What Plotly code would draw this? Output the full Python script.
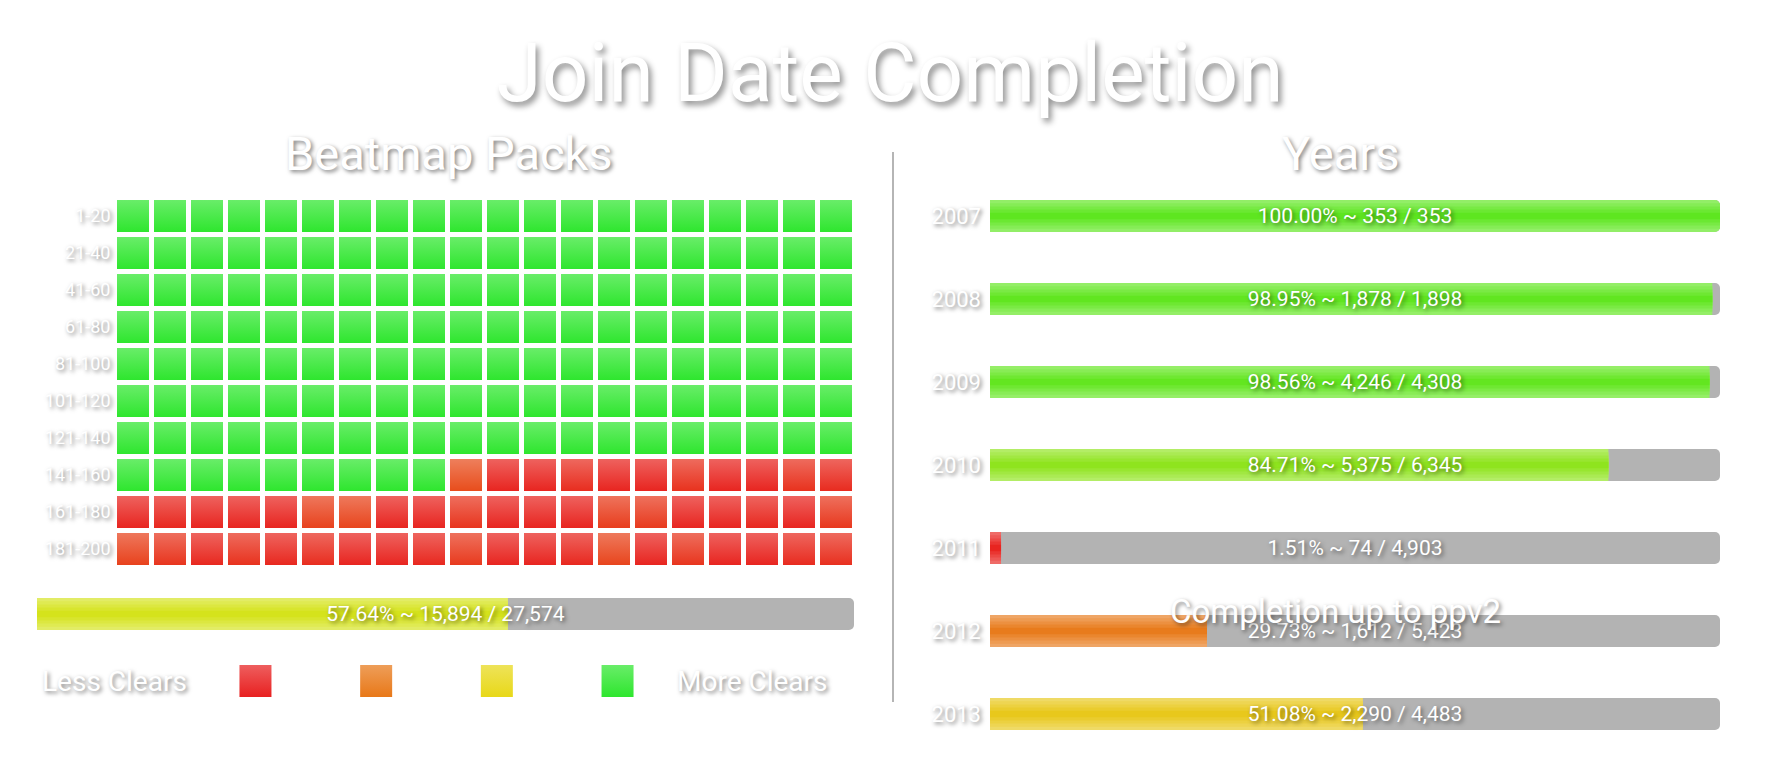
import plotly.graph_objects as go

# ---------------------------------------------------------------- data
pack_rows = ["1-20", "21-40", "41-60", "61-80", "81-100", "101-120",
             "121-140", "141-160", "161-180", "181-200"]
pack_cols = list(range(20))

# share of the pack cleared, one row of 20 packs per label
pack_clears = [
    [1.0] * 20,
    [1.0] * 20,
    [1.0] * 20,
    [1.0] * 20,
    [1.0] * 20,
    [1.0] * 20,
    [1.0] * 20,
    [1.0] * 9 + [0.17, 0.02, 0.02, 0.05, 0.02, 0.02, 0.07, 0.02, 0.02, 0.07, 0.04],
    [0.02, 0.03, 0.02, 0.02, 0.02, 0.13, 0.14, 0.02, 0.02, 0.08,
     0.02, 0.02, 0.02, 0.11, 0.10, 0.02, 0.02, 0.03, 0.02, 0.09],
    [0.13, 0.08, 0.03, 0.07, 0.03, 0.05, 0.02, 0.02, 0.03, 0.10,
     0.02, 0.02, 0.03, 0.14, 0.02, 0.08, 0.02, 0.02, 0.04, 0.06],
]

pack_done = 15894
pack_total = 27574

years = ["2007", "2008", "2009", "2010", "2011", "2012", "2013"]
year_done = [353, 1878, 4246, 5375, 74, 1612, 2290]
year_total = [353, 1898, 4308, 6345, 4903, 5423, 4483]

legend_levels = [0, 1 / 3, 2 / 3, 1]

# ---------------------------------------------------------------- styling
W, H = 1780, 760
FONT = "Roboto"
SHADOW = "2px 2px 4px rgba(0,0,0,0.5)"
GREY = "#b3b3b3"

TILE_STOPS = [(0, "#e82020"), (1 / 3, "#e87818"), (2 / 3, "#e8d818"), (1, "#2ee62e")]
BAR_STOPS = [(0, "#e82020"), (30, "#e87c1c"), (51, "#e8c81c"), (58, "#d4e41c"),
             (85, "#8ee41e"), (100, "#5ee620")]


def to_rgb(h):
    h = h.lstrip("#")
    return [int(h[i:i + 2], 16) for i in (0, 2, 4)]


def mix(c1, c2, t):
    a, b = to_rgb(c1), to_rgb(c2)
    return "#" + "".join(f"{round(x + (y - x) * t):02x}" for x, y in zip(a, b))


def ramp(stops, v):
    for (p0, c0), (p1, c1) in zip(stops, stops[1:]):
        if v <= p1:
            return mix(c0, c1, (v - p0) / (p1 - p0))
    return stops[-1][1]


def px_x(p):
    return p / W


def px_y(p):
    return 1 - p / H


fig = go.Figure()

# ---------------------------------------------------------------- pack grid
tx, ty, tbottom, ttop = [], [], [], []
for label, row in zip(pack_rows, pack_clears):
    for col, v in zip(pack_cols, row):
        base = ramp(TILE_STOPS, v)
        tx.append(col)
        ty.append(label)
        tbottom.append(base)
        ttop.append(mix(base, "#ffffff", 0.28))

fig.add_trace(go.Scatter(
    x=tx, y=ty, mode="markers", xaxis="x", yaxis="y",
    marker=dict(symbol="square", size=32, color=ttop, line=dict(width=0),
                gradient=dict(type="vertical", color=tbottom)),
    hoverinfo="skip",
))

# ---------------------------------------------------------------- progress bars
LAYERS = [(1.0, 0.32), (0.8, 0.24), (0.6, 0.16), (0.4, 0.08), (0.2, 0.0)]


def add_progress(xa, ya, cats, values, full, colors, texts, thick):
    fig.add_trace(go.Bar(
        x=full, y=cats, orientation="h", xaxis=xa, yaxis=ya, width=thick,
        marker=dict(color=GREY, cornerradius=5, line=dict(width=0)),
        hoverinfo="skip",
    ))
    for i, (frac, light) in enumerate(LAYERS):
        fig.add_trace(go.Bar(
            x=values, y=cats, orientation="h", xaxis=xa, yaxis=ya,
            width=thick * frac,
            marker=dict(color=[mix(c, "#ffffff", light) for c in colors],
                        cornerradius=5 if i == 0 else 0, line=dict(width=0)),
            hoverinfo="skip",
        ))
    fig.add_trace(go.Bar(
        x=full, y=cats, orientation="h", xaxis=xa, yaxis=ya, width=thick,
        marker=dict(color="rgba(0,0,0,0)", line=dict(width=0)),
        text=texts, textposition="inside", insidetextanchor="middle",
        textangle=0, constraintext="none", cliponaxis=False,
        textfont=dict(family=FONT, size=21, color="white", shadow=SHADOW),
        hoverinfo="skip",
    ))


pack_pct = pack_done / pack_total * 100
add_progress("x2", "y2", ["all"], [pack_done], [pack_total],
             [ramp(BAR_STOPS, pack_pct)],
             [f"{pack_pct:.2f}% ~ {pack_done:,} / {pack_total:,}"], 0.5)

year_pct = [d / t * 100 for d, t in zip(year_done, year_total)]
add_progress("x3", "y3", years, year_pct, [100] * len(years),
             [ramp(BAR_STOPS, p) for p in year_pct],
             [f"{p:.2f}% ~ {d:,} / {t:,}" for p, d, t in zip(year_pct, year_done, year_total)],
             32 / 83)

# ---------------------------------------------------------------- colour key
key_base = [ramp(TILE_STOPS, v) for v in legend_levels]
fig.add_trace(go.Scatter(
    x=list(range(len(legend_levels))), y=[0] * len(legend_levels),
    mode="markers", xaxis="x4", yaxis="y4",
    marker=dict(symbol="square", size=32, line=dict(width=0),
                color=[mix(c, "#ffffff", 0.28) for c in key_base],
                gradient=dict(type="vertical", color=key_base)),
    hoverinfo="skip",
))

# ---------------------------------------------------------------- layout
hidden = dict(visible=False, fixedrange=True)
tick_font = dict(family=FONT, color="white", shadow=SHADOW)


def text(x, y, s, size, shadow=SHADOW, xref="paper", yref="paper"):
    return dict(x=x, y=y, xref=xref, yref=yref, text=s, showarrow=False,
                xanchor="center", yanchor="middle",
                font=dict(family=FONT, size=size, color="white", shadow=shadow))


fig.update_layout(
    width=W, height=H,
    margin=dict(l=0, r=0, t=0, b=0),
    paper_bgcolor="white", plot_bgcolor="rgba(0,0,0,0)",
    showlegend=False, barmode="overlay",
    title=dict(text="Join Date Completion", x=0.5, xanchor="center",
               y=px_y(72), yanchor="middle",
               font=dict(family=FONT, size=82, color="white", weight=400,
                         shadow="3px 4px 6px rgba(0,0,0,0.45)")),
    xaxis=dict(domain=[px_x(114.5), px_x(854.5)], range=[-0.5, 19.5], **hidden),
    yaxis=dict(domain=[px_y(567.5), px_y(197.5)], type="category",
               categoryarray=pack_rows, range=[9.5, -0.5], anchor="x",
               showgrid=False, zeroline=False, showline=False, ticks="",
               ticklabelstandoff=3, tickfont=dict(size=18, **tick_font),
               fixedrange=True),
    xaxis2=dict(domain=[px_x(37), px_x(854)], range=[0, pack_total],
                anchor="y2", **hidden),
    yaxis2=dict(domain=[px_y(646), px_y(582)], range=[-0.5, 0.5],
                type="category", anchor="x2", **hidden),
    xaxis3=dict(domain=[px_x(990), px_x(1720)], range=[0, 100],
                anchor="y3", **hidden),
    yaxis3=dict(domain=[px_y(755.5), px_y(174.5)], type="category",
                categoryarray=years, range=[6.5, -0.5], anchor="x3",
                showgrid=False, zeroline=False, showline=False, ticks="",
                ticklabelstandoff=8, tickfont=dict(size=22, **tick_font),
                fixedrange=True),
    xaxis4=dict(domain=[px_x(37), px_x(857)], range=[-1.81, 4.984],
                anchor="y4", **hidden),
    yaxis4=dict(domain=[px_y(713), px_y(649)], range=[-1, 1],
                anchor="x4", **hidden),
    annotations=[
        text(px_x(449), px_y(154), "Beatmap Packs", 47),
        text(px_x(1340), px_y(154), "Years", 47),
        text(px_x(1335), px_y(611), "Completion up to ppv2", 33),
        text(-1.17, 0, "Less Clears", 28, xref="x4", yref="y4"),
        text(4.12, 0, "More Clears", 28, xref="x4", yref="y4"),
    ],
    shapes=[dict(type="line", xref="paper", yref="paper",
                 x0=px_x(893), x1=px_x(893), y0=px_y(152), y1=px_y(702),
                 line=dict(color="#b5b5b5", width=2))],
)

fig.write_html("out.html", config={"displayModeBar": False},
               post_script="document.body.style.margin='0';")
